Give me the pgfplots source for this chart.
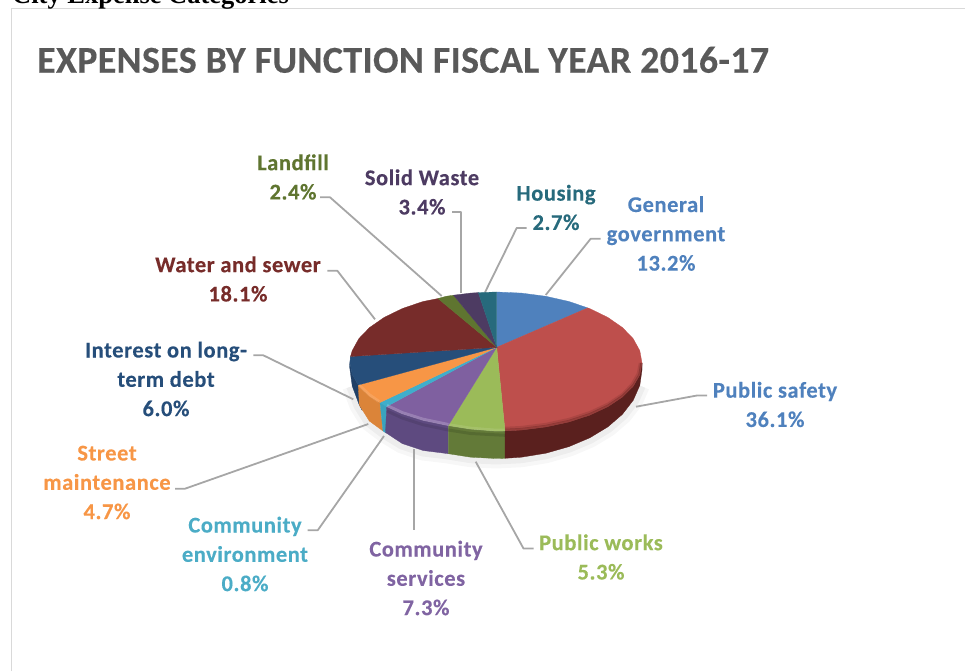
\documentclass[border=0pt]{standalone}
\usepackage{fontspec}
\usepackage{pgfplots}
\pgfplotsset{compat=1.18}
\setmainfont{Carlito}
\newfontfamily\headfont{Liberation Serif}

% slice colours: top faces
\definecolor{cGen}{HTML}{4F81BD}
\definecolor{cSafe}{HTML}{BE4F4C}
\definecolor{cWork}{HTML}{9BBB59}
\definecolor{cServ}{HTML}{7F60A0}
\definecolor{cEnv}{HTML}{3FAECB}
\definecolor{cStreet}{HTML}{F79646}
\definecolor{cDebt}{HTML}{264E7A}
\definecolor{cWater}{HTML}{772C2A}
\definecolor{cFill}{HTML}{5F7530}
\definecolor{cSolid}{HTML}{4D3B62}
\definecolor{cHouse}{HTML}{276A7C}
% slice colours: side walls
\definecolor{wSafe}{HTML}{5A201E}
\definecolor{wWork}{HTML}{637A38}
\definecolor{wServ}{HTML}{5E4A80}
\definecolor{wEnv}{HTML}{3AA3BE}
\definecolor{wStreet}{HTML}{DB8439}
\definecolor{wDebt}{HTML}{1F3F66}
% label colours
\definecolor{tEnv}{HTML}{4BACC6}
\definecolor{tServ}{HTML}{8064A2}
\definecolor{tSafe}{HTML}{4F81BD}
\definecolor{leader}{HTML}{A6A6A6}
\definecolor{frameline}{HTML}{D9D9D9}
\definecolor{titlegray}{HTML}{595959}

\tikzset{
  lab/.style={font=\fontsize{22.5}{29.3}\selectfont\bfseries\addfontfeature{LetterSpace=2.5,FakeBold=0.25},
    align=center, inner sep=0pt, outer sep=0pt, anchor=center},
}
\pgfplotsset{
  face/.style={fill=#1, draw=#1, line width=0.3pt},
  lead/.style={draw=leader, line width=1.8pt, line join=round},
}

\begin{document}
\begin{tikzpicture}
\path[use as bounding box] (0,0) rectangle (965pt,671pt);
\begin{axis}[
  at={(0,0)}, anchor=south west,
  scale only axis, width=965pt, height=671pt,
  xmin=0, xmax=965, ymin=0, ymax=671, y dir=reverse,
  hide axis, clip=false,
]
% panel border
\addplot[draw=frameline, line width=1.4pt] coordinates {(11.3,671) (11.3,8.8) (965,8.8)};

% soft ground shadow under the pie
\addplot[draw=black, opacity=0.03, line width=20pt, line join=round, line cap=butt]
  coordinates {(352.2,386) (359.3,405) (369.3,421) (385,433) (402.2,443.5) (423,450.5) (446.1,453.2) (470.7,457.2) (496,458.5) (521.4,457.2) (545.9,453.2) (569,446.6) (589.8,437.8) (607.8,426.9) (622.4,414.3) (633.2,400.3) (639.8,385.4)};
\addplot[draw=black, opacity=0.04, line width=12pt, line join=round, line cap=butt]
  coordinates {(352.2,386) (359.3,405) (369.3,421) (385,433) (402.2,443.5) (423,450.5) (446.1,453.2) (470.7,457.2) (496,458.5) (521.4,457.2) (545.9,453.2) (569,446.6) (589.8,437.8) (607.8,426.9) (622.4,414.3) (633.2,400.3) (639.8,385.4)};

% leader lines
\addplot[lead] coordinates {(600.7,238.7) (590.7,238.7) (545.7,295)};
\addplot[lead] coordinates {(526.7,228) (516.7,228) (485,292.3)};
\addplot[lead] coordinates {(452.3,211.7) (461.3,211.7) (461.3,292.7)};
\addplot[lead] coordinates {(320,197.3) (330,197.3) (441.7,296)};
\addplot[lead] coordinates {(327.3,270.7) (337.3,270.7) (375,319.3)};
\addplot[lead] coordinates {(253.3,355.3) (263.3,355.3) (353.3,399.3)};
\addplot[lead] coordinates {(175,488.7) (185,488.7) (368.3,424)};
\addplot[lead] coordinates {(307.7,530.3) (317.7,530.3) (384,436)};
\addplot[lead] coordinates {(414,449) (414,530)};
\addplot[lead] coordinates {(475.7,461.7) (523.5,548.5) (533.5,548.5)};
\addplot[lead] coordinates {(636,406.7) (697,395.5) (707,395.5)};

% side walls
\addplot[face=wDebt] coordinates {(358.3,385) (352.2,374.5) (350,363) (350.5,356.5) (349.5,366) (352.2,386) (359.3,405) (362,410)} --cycle;
\addplot[face=wStreet] coordinates {(380,402.5) (369.6,396) (358.3,385) (359.3,405) (369.3,421) (383,431)} --cycle;
\addplot[face=wEnv] coordinates {(387,405) (380,402.5) (383,431) (386,433)} --cycle;
\addplot[face=wServ] coordinates {(448.3,425.5) (446.1,425) (423,420.2) (402.2,413.6) (386.7,406.5) (385.5,432.5) (402.2,443.5) (423,450.5) (448.3,453.7)} --cycle;
\addplot[face=wWork] coordinates {(505,430.8) (496,431) (470.7,429) (448.3,425.5) (448.3,453.7) (470.7,457.2) (496,458.5) (505,458.3)} --cycle;
\addplot[face=wSafe] coordinates {(505,430.8) (521.4,430) (545.9,426.9) (569,421.9) (589.8,415.1) (607.8,406.7) (622.4,397) (633.2,386.3) (639.8,374.8) (642,363) (642,370) (639.8,385.4) (633.2,400.3) (622.4,414.3) (607.8,426.9) (589.8,437.8) (569,446.6) (545.9,453.2) (521.4,457.2) (505,458.3)} --cycle;

% top faces, clockwise from General government
\addplot[face=cGen] coordinates {(496.7,347.3) (496.7,292) (521.4,293.1) (545.9,296.3) (569,301.5) (587.7,307.9)} --cycle;
\addplot[face=cSafe] coordinates {(496.7,347.3) (587.7,307.9) (589.8,308.6) (607.8,317.4) (622.4,327.5) (633.2,338.7) (639.8,350.7) (642,363) (639.8,374.8) (633.2,386.3) (622.4,397) (607.8,406.7) (589.8,415.1) (569,421.9) (545.9,426.9) (521.4,430) (505,430.8)} --cycle;
\addplot[face=cWork] coordinates {(496.7,347.3) (505,430.8) (496,431) (470.7,429) (448.3,425.5)} --cycle;
\addplot[face=cServ] coordinates {(496.7,347.3) (448.3,425.5) (446.1,425) (423,420.2) (402.2,413.6) (386.7,406.5)} --cycle;
\addplot[face=cEnv] coordinates {(496.7,347.3) (386.7,406.5) (380,402.5)} --cycle;
\addplot[face=cStreet] coordinates {(496.7,347.3) (380,402.5) (369.6,396) (358.3,385)} --cycle;
\addplot[face=cDebt] coordinates {(496.7,347.3) (358.3,385) (352.2,374.5) (350,363) (350.5,356.5)} --cycle;
\addplot[face=cWater] coordinates {(496.7,347.3) (350.5,356.5) (352.2,350.7) (358.8,338.7) (369.6,327.5) (384.2,317.4) (402.2,308.6) (423,301.5) (438,298.5)} --cycle;
\addplot[face=cFill] coordinates {(496.7,347.3) (438,298.5) (446.1,296.3) (453.5,295.2)} --cycle;
\addplot[face=cSolid] coordinates {(496.7,347.3) (453.5,295.2) (470.6,293.1) (478.3,292.6)} --cycle;
\addplot[face=cHouse] coordinates {(496.7,347.3) (478.3,292.6) (496.7,292)} --cycle;

% bevel along the rim
\addplot[draw=wSafe, opacity=0.4, line width=2.5pt, line join=round] coordinates {(505,430) (521.4,429.2) (545.9,426.1) (569,421.1) (589.8,414.3) (607.8,405.9) (622.4,396.2) (633.2,385.5) (639.5,374.8) (641.5,363)};
\addplot[draw=wSafe, opacity=0.18, line width=2.5pt, line join=round] coordinates {(505,428) (521.4,427.2) (545.9,424.1) (569,419.1) (589.8,412.3) (607.8,403.9) (622.4,394.2) (632,384) (638,373.5) (640,363)};
\addplot[draw=white, opacity=0.2, line width=3pt, line join=round] coordinates {(448.3,424.5) (423,419.2) (402.2,412.6) (387,405.5)};
\addplot[draw=white, opacity=0.1, line width=3pt, line join=round] coordinates {(505,430) (496,430.2) (470.7,428.2) (448.3,424.7)};
\addplot[draw=white, opacity=0.12, line width=3pt, line join=round] coordinates {(379,401.5) (369.6,395) (359,385)};
\addplot[draw=black, opacity=0.1, line width=3pt, line join=round] coordinates {(448.3,430) (423,424.7) (402.2,418) (387,411)};
\addplot[draw=black, opacity=0.12, line width=3pt, line join=round] coordinates {(505,435.3) (470.7,433.5) (448.3,430)};

% header, title and data labels
\node[font=\headfont\fontsize{26.5}{26.5}\selectfont\bfseries, text=black, anchor=base west, inner sep=0pt] at (axis cs:12,3.8) {City Expense Categories};
\node[font=\fontsize{38}{38}\selectfont\bfseries\addfontfeature{LetterSpace=0.8,FakeBold=0.3}, text=titlegray, anchor=base west, inner sep=0pt] at (axis cs:37,72.7) {EXPENSES BY FUNCTION FISCAL YEAR 2016-17};

\node[lab, text=cGen] at (axis cs:666,233.5) {General\\government\\13.2\%};
\node[lab, text=tSafe] at (axis cs:775,404.5) {Public safety\\36.1\%};
\node[lab, text=cWork] at (axis cs:601,557) {Public works\\5.3\%};
\node[lab, text=tServ] at (axis cs:426,578) {Community\\services\\7.3\%};
\node[lab, text=tEnv] at (axis cs:245,554) {Community\\environment\\0.8\%};
\node[lab, text=cStreet] at (axis cs:107,482.5) {Street\\maintenance\\4.7\%};
\node[lab, text=cDebt] at (axis cs:166,379) {Interest on long-\\term debt\\6.0\%};
\node[lab, text=cWater] at (axis cs:238,279) {Water and sewer\\18.1\%};
\node[lab, text=cFill] at (axis cs:293,177) {Landfill\\2.4\%};
\node[lab, text=cSolid] at (axis cs:422,192) {Solid Waste\\3.4\%};
\node[lab, text=cHouse] at (axis cs:556,207.5) {Housing\\2.7\%};
\end{axis}
\end{tikzpicture}
\end{document}
